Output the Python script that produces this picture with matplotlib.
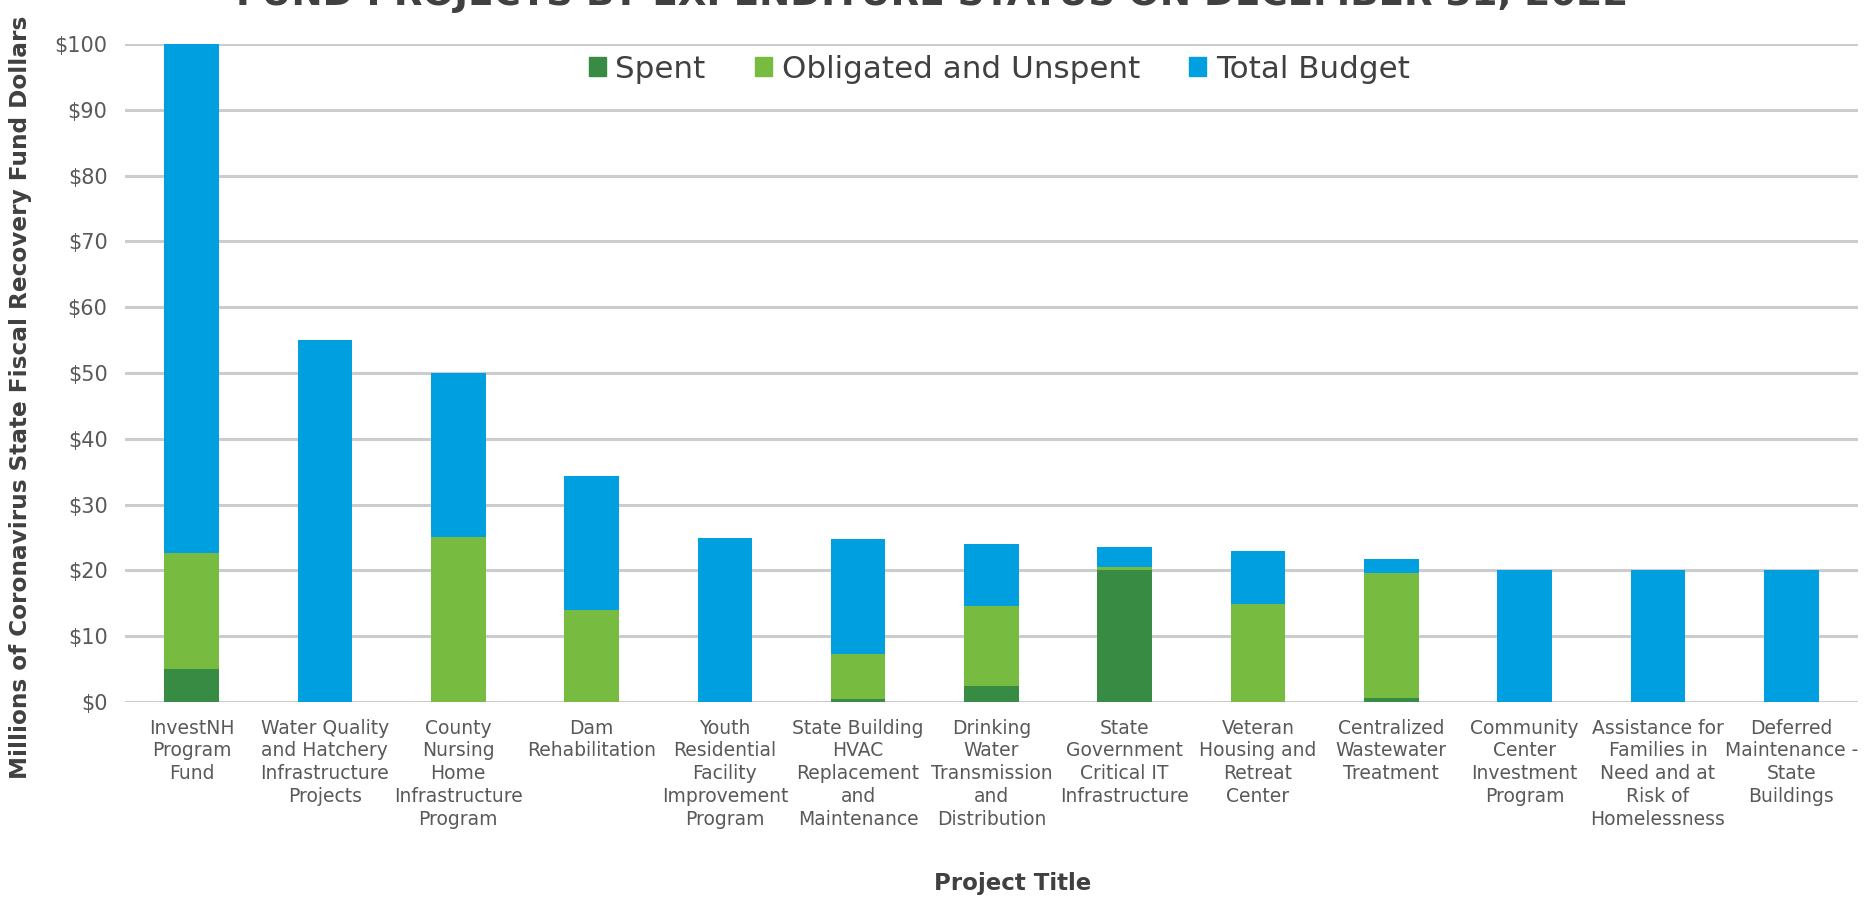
import numpy as np
import matplotlib
matplotlib.use("Agg")
import matplotlib.pyplot as plt
from matplotlib.patches import Patch

# values in millions of dollars
projects = [
    "InvestNH\nProgram\nFund",
    "Water Quality\nand Hatchery\nInfrastructure\nProjects",
    "County\nNursing\nHome\nInfrastructure\nProgram",
    "Dam\nRehabilitation",
    "Youth\nResidential\nFacility\nImprovement\nProgram",
    "State Building\nHVAC\nReplacement\nand\nMaintenance",
    "Drinking\nWater\nTransmission\nand\nDistribution",
    "State\nGovernment\nCritical IT\nInfrastructure",
    "Veteran\nHousing and\nRetreat\nCenter",
    "Centralized\nWastewater\nTreatment",
    "Community\nCenter\nInvestment\nProgram",
    "Assistance for\nFamilies in\nNeed and at\nRisk of\nHomelessness",
    "Deferred\nMaintenance -\nState\nBuildings",
]
spent = [5.0, 0.0, 0.0, 0.0, 0.0, 0.4, 2.5, 20.0, 0.0, 0.6, 0.0, 0.0, 0.0]
obligated = [17.7, 0.0, 25.1, 14.0, 0.0, 6.9, 12.1, 0.5, 14.9, 19.0, 0.0, 0.0, 0.0]
total_budget = [100.0, 55.0, 50.0, 34.3, 24.9, 24.8, 24.0, 23.5, 23.0, 21.7, 20.0, 20.0, 20.0]

c_spent = "#378B42"
c_oblig = "#77BB41"
c_total = "#009FDF"
txt_dark = "#404040"
txt_gray = "#595959"

plt.rcParams['font.family'] = ['DejaVu Sans']

spent = np.array(spent)
obligated = np.array(obligated)
remaining = np.array(total_budget) - spent - obligated
x = np.arange(len(projects))

fig = plt.figure(figsize=(18.68, 8.97), dpi=100)
ax = fig.add_axes([0.0669, 0.2174, 0.9277, 0.7336])

w = 0.41
ax.bar(x, spent, w, color=c_spent, zorder=3)
ax.bar(x, obligated, w, bottom=spent, color=c_oblig, zorder=3)
ax.bar(x, remaining, w, bottom=spent + obligated, color=c_total, zorder=3)

ax.set_xlim(-0.5, len(projects) - 0.5)
ax.set_ylim(0, 100)
ax.set_yticks(np.arange(0, 101, 10))
ax.set_yticklabels([f"${v}" for v in range(0, 101, 10)])
ax.yaxis.grid(True, color="#cccccc", linewidth=2.2, zorder=0)
ax.set_axisbelow(True)
for s in ax.spines.values():
    s.set_visible(False)
ax.tick_params(axis="y", length=0, pad=12.5, labelsize=15, labelcolor=txt_gray)
ax.set_xticks(x)
ax.set_xticklabels(projects, fontsize=13.5, color=txt_gray, linespacing=1.25)
ax.tick_params(axis="x", length=0, pad=12)

# axis titles
fig.text(0.542, 1 - 883 / 897, "Project Title", ha="center", va="center",
         fontsize=16.5, fontweight="bold", color=txt_dark)
fig.text(21 / 1868, 1 - 397 / 897,
         "Millions of Coronavirus State Fiscal Recovery Fund Dollars",
         rotation=90, ha="center", va="center",
         fontsize=16.7, fontweight="bold", color=txt_dark)

# chart title, clipped at the top edge as in the source
fig.text(0.499, 1 - 5 / 897, "FUND PROJECTS BY EXPENDITURE STATUS ON DECEMBER 31, 2022",
         ha="center", va="baseline", fontsize=26.8, fontweight="bold", color=txt_dark)

handles = [Patch(color=c_spent, label="Spent"),
           Patch(color=c_oblig, label="Obligated and Unspent"),
           Patch(color=c_total, label="Total Budget")]
fig.legend(handles=handles, loc="center", bbox_to_anchor=(0.535, 0.923), ncol=3,
           frameon=False, fontsize=22.3, handlelength=0.55, handleheight=0.55,
           handletextpad=0.3, columnspacing=1.6, labelcolor=txt_dark)

fig.savefig("out.png", dpi=100)
